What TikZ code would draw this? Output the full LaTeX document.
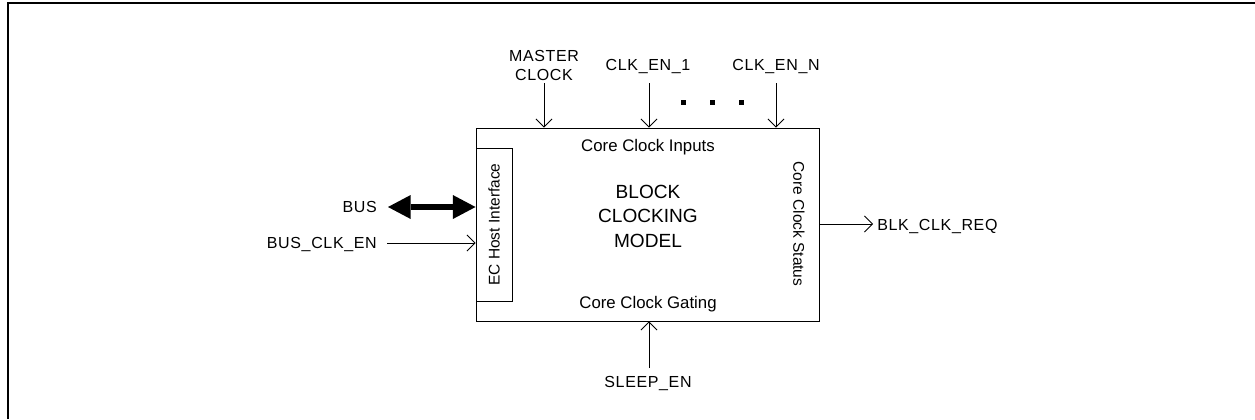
\documentclass[tikz,border=0pt]{standalone}
\usepackage{fontspec}
\setmainfont{Liberation Sans}
\usetikzlibrary{arrows.meta}

\begin{document}
\begin{tikzpicture}[
    % --- Global Settings ---
    % one unit is one pixel of the reference
    x=0.75pt, y=-0.75pt,
    every node/.style={font=\fontsize{12pt}{14.4pt}\selectfont\addfontfeatures{LetterSpace=4}, inner sep=0pt}
  ]

  % --- Style Definitions ---
  \tikzset{
    % the outer model block
    modelbox/.style={
      draw=black,
      line width=0.7pt,
      minimum width=257.25pt,
      minimum height=144.75pt
    },
    % the rotated host interface box
    hostbox/.style={
      draw=black,
      line width=0.7pt,
      rotate=90,
      minimum width=114.75pt,
      minimum height=27pt,
      font=\fontsize{11.6pt}{13pt}\selectfont
    },
    % labels inside the block
    inlabel/.style={
      font=\fontsize{12.6pt}{14pt}\selectfont
    },
    % thin signal arrows with open heads
    sig/.style={
      -{Straight Barb[length=6pt, width=12pt]},
      line width=0.6pt
    },
    % the thick two-headed bus arrow
    busarrow/.style={
      {Triangle[length=17pt, width=18pt, line width=0pt]}-{Triangle[length=17pt, width=18pt, line width=0pt]},
      line width=5pt
    },
    % the open frame round the picture
    frame/.style={
      line width=2pt
    }
  }

  \useasboundingbox (0,0) rectangle (1255,419);

  % --- Frame ---
  \draw[frame] (8,419) |- (1255,3);

  % --- Node Placement ---
  % Main block
  \node[modelbox] (model) at (647.5,224.5) {};

  % Host interface strip on the left edge of the block
  \node[hostbox, anchor=north] (host) at (model.west) {EC Host Interface};

  % Titles inside the block
  \node[align=center, font=\fontsize{14.3pt}{18.4pt}\selectfont] (title) at (648,216) {BLOCK\\CLOCKING\\MODEL};
  \node[inlabel, anchor=base] (inputs) at (648,151) {Core Clock Inputs};
  \node[inlabel, anchor=base] (gating) at (648,308) {Core Clock Gating};
  \node[hostbox, draw=none, rotate=180] (status) at (799,224) {Core Clock Status};

  % Top inputs
  \node[align=center] (mclklbl) at (544,65.5) {MASTER\\CLOCK};
  \node[anchor=base] (en1lbl) at (648,70) {CLK\_EN\_1};
  \node[anchor=base] (enNlbl) at (776,70) {CLK\_EN\_N};
  \coordinate (mclk) at (544,83);
  \coordinate (en1) at (649,83);
  \coordinate (enN) at (776,83);

  % Ellipsis between the enables
  \foreach \dx in {683,712,741}
    \fill (\dx-2.5,99.5) rectangle (\dx+2.5,104.5);

  % Left side signals
  \node[anchor=base east] (buslbl) at (377,212) {BUS};
  \node[anchor=base east] (busenlbl) at (377,248) {BUS\_CLK\_EN};
  \coordinate (bus) at (388,207);
  \coordinate (busen) at (387,243);

  % Right output
  \coordinate (req) at (873,224);
  \node[anchor=base west] (reqlbl) at (877,230) {BLK\_CLK\_REQ};

  % Bottom input
  \coordinate (sleep) at (649,368);
  \node[anchor=base] (sleeplbl) at (648,387) {SLEEP\_EN};

  % --- Path and Arrow Drawing ---
  \draw[sig] (mclk) -- (mclk |- model.north);
  \draw[sig] (en1) -- (en1 |- model.north);
  \draw[sig] (enN) -- (enN |- model.north);
  \draw[busarrow] (bus) -- (bus -| model.west);
  \draw[sig] (busen) -- (busen -| model.west);
  \draw[sig] (req -| model.east) -- (req);
  \draw[sig] (sleep) -- (sleep |- model.south);

\end{tikzpicture}
\end{document}
